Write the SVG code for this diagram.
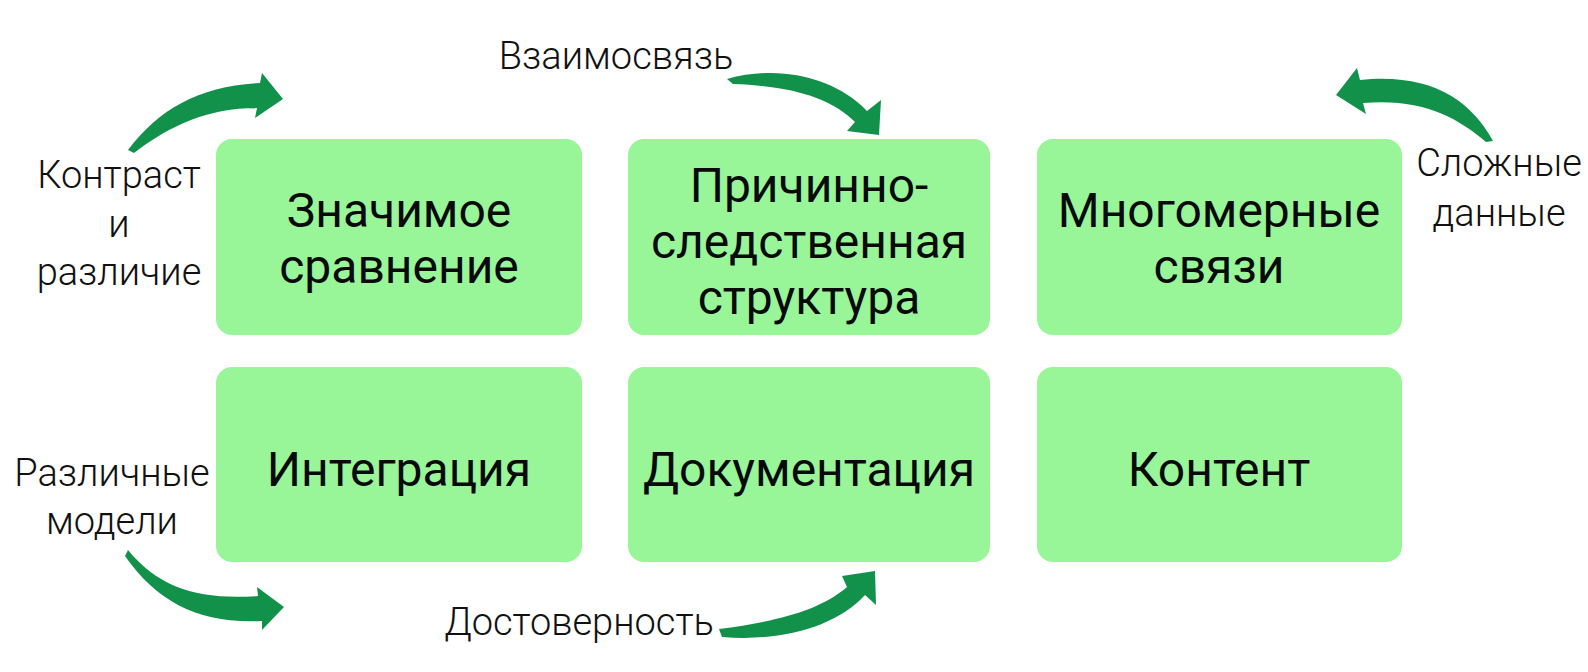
<svg xmlns="http://www.w3.org/2000/svg" width="1588" height="672" viewBox="0 0 1588 672">
<style>
.box{fill:#98F598;}
.bt{font-family:Roboto,"Liberation Sans",sans-serif;font-size:48px;fill:#0a0a0a;text-anchor:middle;}
.lb{font-family:Roboto,"Liberation Sans",sans-serif;font-size:38px;font-weight:300;fill:#111;text-anchor:middle;}
.arr{fill:#12914B;}
</style>
<rect width="1588" height="672" fill="#ffffff"/>
<g id="connectors">
<path class="arr" d="M128,150 C160,108 200,86 260,83 L262,73 L283,99 L255,118 L257,108 C210,108 172,124 134,153 Z"/>
<path class="arr" d="M727,79 C780,64 836,78 867,111 L881,100 L879,135 L847,131 L855,122 C830,97 790,86 733,84 Z"/>
<path class="arr" d="M1493,141 C1470,99 1430,73 1360,80 L1357,68 L1336,95 L1366,114 L1363,103 C1420,98 1456,116 1486,142 Z"/>
<path class="arr" d="M128,550 C160,589 200,600 258,596 L257,587 L284,607 L262,630 L262,621 C200,624 158,603 125,556 Z"/>
<path class="arr" d="M719,629 C780,621 820,610 847,587 L842,576 L875,571 L876,605 L865,595 C836,627 780,642 722,637 Z"/>
</g>
<g id="node-1"><rect class="box" x="216" y="139" width="366" height="196" rx="16"/><text class="bt" x="399" y="227">Значимое</text><text class="bt" x="399" y="283">сравнение</text></g>
<g id="node-2"><rect class="box" x="628" y="139" width="362" height="196" rx="16"/><text class="bt" x="809" y="202">Причинно-</text><text class="bt" x="809" y="258">следственная</text><text class="bt" x="809" y="314">структура</text></g>
<g id="node-3"><rect class="box" x="1037" y="139" width="365" height="196" rx="16"/><text class="bt" x="1219" y="227">Многомерные</text><text class="bt" x="1219" y="283">связи</text></g>
<g id="node-4"><rect class="box" x="216" y="367" width="366" height="195" rx="16"/><text class="bt" x="399" y="486">Интеграция</text></g>
<g id="node-5"><rect class="box" x="628" y="367" width="362" height="195" rx="16"/><text class="bt" x="809" y="486">Документация</text></g>
<g id="node-6"><rect class="box" x="1037" y="367" width="365" height="195" rx="16"/><text class="bt" x="1219" y="486">Контент</text></g>
<g id="labels">
<text class="lb" x="616" y="69">Взаимосвязь</text>
<text class="lb" x="119" y="188">Контраст</text>
<text class="lb" x="119" y="237">и</text>
<text class="lb" x="119" y="285">различие</text>
<text class="lb" x="1499" y="176">Сложные</text>
<text class="lb" x="1499" y="226">данные</text>
<text class="lb" x="112" y="486">Различные</text>
<text class="lb" x="112" y="534">модели</text>
<text class="lb" x="579" y="635">Достоверность</text>
</g>
</svg>
